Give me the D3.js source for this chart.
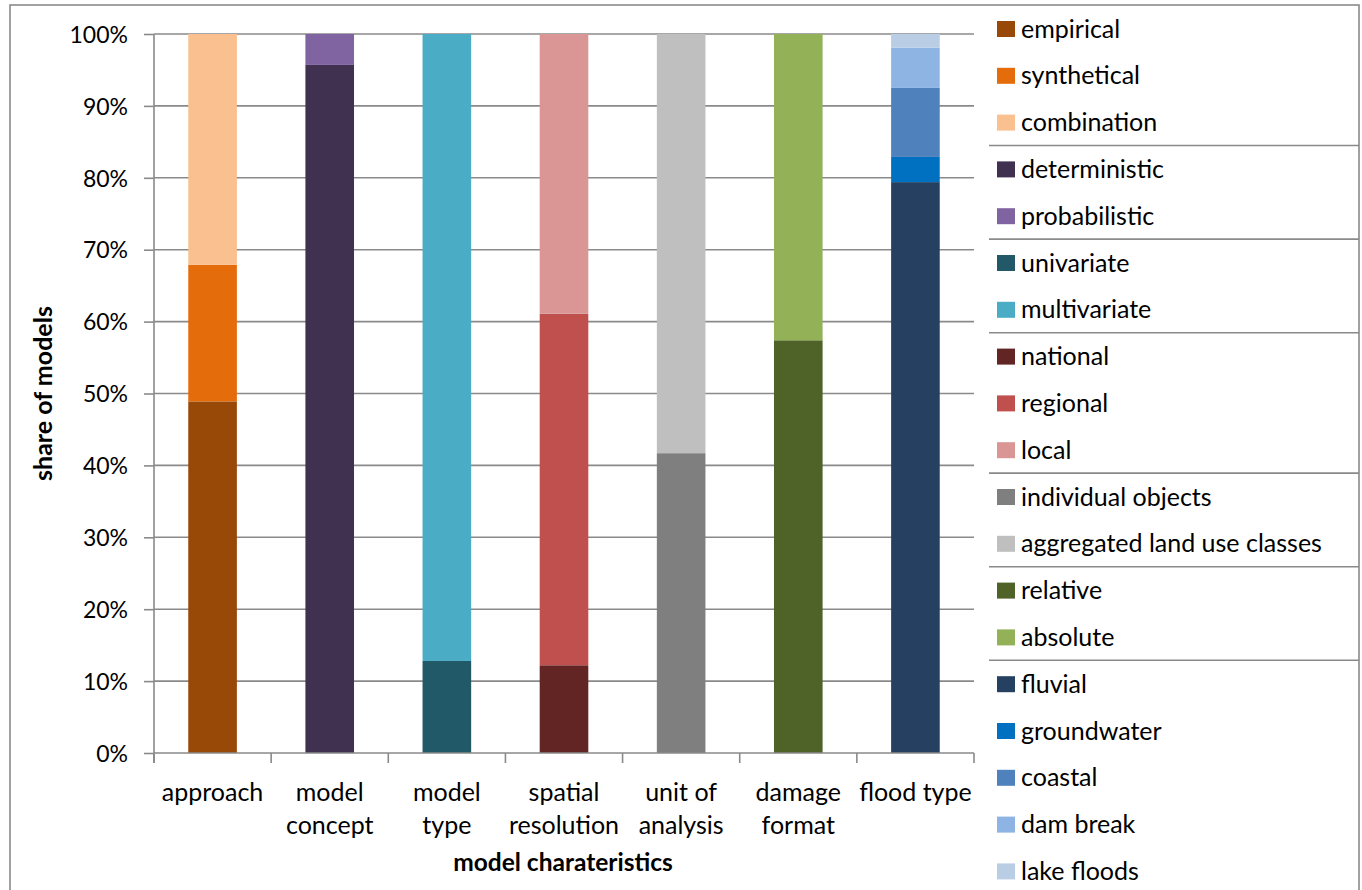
<!DOCTYPE html>
<html>
<head>
<meta charset="utf-8">
<script src="https://cdn.jsdelivr.net/npm/d3@7"></script>
<style>
  html, body { margin: 0; padding: 0; background: #ffffff; }
  svg { display: block; font-family: Lato, "Liberation Sans", sans-serif; }
</style>
</head>
<body>
<svg id="chart" width="1362" height="890"></svg>
<script>
// Categories along the x axis and their tick labels (split into lines)
const categories = ["approach", "model concept", "model type", "spatial resolution",
                    "unit of analysis", "damage format", "flood type"];
const tickLabels = [["approach"], ["model", "concept"], ["model", "type"],
                    ["spatial", "resolution"], ["unit of", "analysis"],
                    ["damage", "format"], ["flood type"]];

// Share of models (%) per class, bottom to top, one array per characteristic
const approachNames = ["empirical", "synthetical", "combination"];
const approachValues = [48.9, 19.0, 32.1];
const conceptNames = ["deterministic", "probabilistic"];
const conceptValues = [95.7, 4.3];
const typeNames = ["univariate", "multivariate"];
const typeValues = [12.8, 87.2];
const resolutionNames = ["national", "regional", "local"];
const resolutionValues = [12.2, 48.9, 38.9];
const unitNames = ["individual objects", "aggregated land use classes"];
const unitValues = [41.7, 58.3];
const formatNames = ["relative", "absolute"];
const formatValues = [57.4, 42.6];
const floodNames = ["fluvial", "groundwater", "coastal", "dam break", "lake floods"];
const floodValues = [79.4, 3.5, 9.6, 5.6, 1.9];

const yTicks = [0, 10, 20, 30, 40, 50, 60, 70, 80, 90, 100];

// Fill colours, one array per characteristic
const approachColors = ["#984807", "#e46c0a", "#fac090"];
const conceptColors = ["#403151", "#8064a2"];
const typeColors = ["#215968", "#4bacc6"];
const resolutionColors = ["#632523", "#c0504d", "#d99694"];
const unitColors = ["#7f7f7f", "#bfbfbf"];
const formatColors = ["#4f6228", "#93b157"];
const floodColors = ["#254061", "#0070c0", "#4f81bd", "#8eb4e3", "#b9cde5"];

const groups = [
  { names: approachNames, values: approachValues, colors: approachColors },
  { names: conceptNames, values: conceptValues, colors: conceptColors },
  { names: typeNames, values: typeValues, colors: typeColors },
  { names: resolutionNames, values: resolutionValues, colors: resolutionColors },
  { names: unitNames, values: unitValues, colors: unitColors },
  { names: formatNames, values: formatValues, colors: formatColors },
  { names: floodNames, values: floodValues, colors: floodColors }
];

const svg = d3.select("#chart");
const lineColor = "#8a8a8a";
const textColor = "#000000";

// Outer frame
svg.append("rect")
  .attr("x", 10).attr("y", 5).attr("width", 1349).attr("height", 920)
  .attr("fill", "none").attr("stroke", lineColor).attr("stroke-width", 1.6);

const plot = { left: 154, right: 974, top: 34, bottom: 753 };

const x = d3.scaleBand()
  .domain(categories)
  .range([plot.left, plot.right])
  .paddingInner(0.585)
  .paddingOuter(0.2925);

const y = d3.scaleLinear().domain([0, 100]).range([plot.bottom, plot.top]);

// Horizontal gridlines
svg.append("g")
  .selectAll("line")
  .data(yTicks.filter(d => d > 0))
  .join("line")
  .attr("x1", plot.left).attr("x2", plot.right)
  .attr("y1", d => y(d)).attr("y2", d => y(d))
  .attr("stroke", lineColor).attr("stroke-width", 1.6);

// Stacked bars
groups.forEach((g, gi) => {
  const tops = d3.cumsum(g.values);
  const segs = g.values.map((v, i) => ({
    name: g.names[i], y0: tops[i] - v, y1: tops[i], color: g.colors[i]
  }));
  svg.append("g")
    .selectAll("rect")
    .data(segs)
    .join("rect")
    .attr("x", x(categories[gi]))
    .attr("width", x.bandwidth())
    .attr("y", d => y(d.y1))
    .attr("height", d => y(d.y0) - y(d.y1))
    .attr("fill", d => d.color);
});

// Y axis
const yAxis = svg.append("g")
  .attr("transform", `translate(${plot.left},0)`)
  .call(d3.axisLeft(y).tickValues(yTicks).tickFormat(d => d + "%")
    .tickSize(10).tickPadding(16));
yAxis.select(".domain").remove();
yAxis.selectAll(".tick line").attr("stroke", lineColor).attr("stroke-width", 1.6);
yAxis.selectAll(".tick text")
  .attr("font-family", "Lato, sans-serif")
  .attr("font-size", 23).attr("fill", textColor).attr("dy", "0.36em");
svg.append("line")
  .attr("x1", plot.left).attr("x2", plot.left)
  .attr("y1", plot.top).attr("y2", plot.bottom + 10)
  .attr("stroke", lineColor).attr("stroke-width", 1.6);

// X axis baseline and category separators
svg.append("line")
  .attr("x1", plot.left).attr("x2", plot.right)
  .attr("y1", plot.bottom).attr("y2", plot.bottom)
  .attr("stroke", lineColor).attr("stroke-width", 1.6);
const step = x.step();
const bounds = d3.range(categories.length + 1).map(i => plot.left + i * step);
svg.append("g")
  .selectAll("line")
  .data(bounds)
  .join("line")
  .attr("x1", d => d).attr("x2", d => d)
  .attr("y1", plot.bottom).attr("y2", plot.bottom + 10)
  .attr("stroke", lineColor).attr("stroke-width", 1.6);

// Category labels
const catLabels = svg.append("g")
  .selectAll("text")
  .data(categories)
  .join("text")
  .attr("x", d => x(d) + x.bandwidth() / 2)
  .attr("y", 801)
  .attr("text-anchor", "middle")
  .attr("font-size", 25)
  .attr("fill", textColor);
catLabels.each(function (d, i) {
  d3.select(this).selectAll("tspan")
    .data(tickLabels[i])
    .join("tspan")
    .attr("x", x(d) + x.bandwidth() / 2)
    .attr("dy", (t, j) => j === 0 ? 0 : 33)
    .text(t => t);
});

// Axis titles
svg.append("text")
  .attr("x", 563)
  .attr("y", 871)
  .attr("text-anchor", "middle")
  .attr("font-size", 24.5).attr("font-weight", "bold").attr("fill", textColor)
  .text("model charateristics");
svg.append("text")
  .attr("transform", `translate(52, ${(plot.top + plot.bottom) / 2}) rotate(-90)`)
  .attr("text-anchor", "middle")
  .attr("font-size", 25).attr("font-weight", "bold").attr("fill", textColor)
  .text("share of models");

// Legend: one row per class, grouped by characteristic with separators
const legendRows = [];
groups.forEach((g, gi) => g.names.forEach((n, i) =>
  legendRows.push({ name: n, color: g.colors[i], group: gi })));
const ly = d3.scaleLinear().domain([0, legendRows.length - 1]).range([29, 871.4]);

const legend = svg.append("g");
legend.selectAll("rect")
  .data(legendRows)
  .join("rect")
  .attr("x", 997).attr("width", 18)
  .attr("y", (d, i) => ly(i) - 8).attr("height", 16)
  .attr("fill", d => d.color);
legend.selectAll("text")
  .data(legendRows)
  .join("text")
  .attr("x", 1021)
  .attr("y", (d, i) => ly(i) + 8.5)
  .attr("font-size", 25)
  .attr("fill", textColor)
  .text(d => d.name);

const sepIdx = [];
legendRows.forEach((d, i) => { if (i > 0 && d.group !== legendRows[i - 1].group) sepIdx.push(i); });
legend.selectAll("line")
  .data(sepIdx)
  .join("line")
  .attr("x1", 989).attr("x2", 1359)
  .attr("y1", i => (ly(i) + ly(i - 1)) / 2 - 0.5)
  .attr("y2", i => (ly(i) + ly(i - 1)) / 2 - 0.5)
  .attr("stroke", lineColor).attr("stroke-width", 1.6);
</script>
</body>
</html>
